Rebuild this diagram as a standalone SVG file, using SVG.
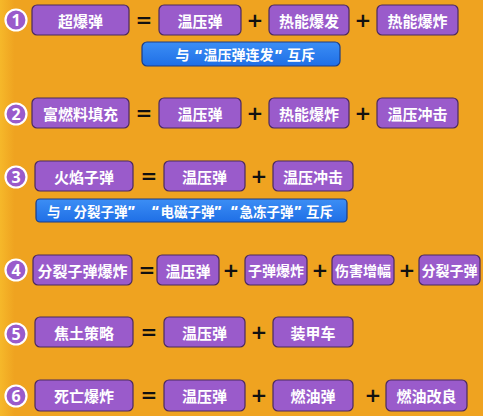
<svg xmlns="http://www.w3.org/2000/svg" width="483" height="416" viewBox="0 0 483 416">
<defs>
<linearGradient id="bg" x1="0" y1="0" x2="1" y2="0">
<stop offset="0" stop-color="#F6B82A"/><stop offset="0.03" stop-color="#EFA320"/><stop offset="1" stop-color="#EFA320"/>
</linearGradient>
<linearGradient id="blue" x1="0" y1="0" x2="0" y2="1">
<stop offset="0" stop-color="#3C8EF5"/><stop offset="1" stop-color="#1F6FE6"/>
</linearGradient>
</defs>
<style>
.box{fill:#9A5BCB;stroke:#4B2A5E;stroke-width:1.2}
.bt{font-family:"Noto Sans CJK SC","Noto Sans",sans-serif;font-weight:700;font-size:15px;fill:#fff;text-anchor:middle;dominant-baseline:central}
.bt4{font-size:14px}
.circ{fill:#9A5BCB;stroke:#fff;stroke-width:2.2}
.num{font-family:"Noto Sans","DejaVu Sans",sans-serif;font-weight:700;font-size:16px;fill:#fff;text-anchor:middle;dominant-baseline:central}
.op{font-family:"DejaVu Sans",sans-serif;font-weight:700;font-size:20px;fill:#111;text-anchor:middle;dominant-baseline:central}
.ban{fill:url(#blue);stroke:#1C3D86;stroke-width:1.2}
.bnt{font-family:"Noto Sans CJK SC","Noto Sans",sans-serif;font-weight:700;font-size:14px;fill:#fff;text-anchor:start;dominant-baseline:central}
.bnt3{font-size:13.5px}
.q{font-family:"Noto Sans","DejaVu Sans",sans-serif;font-weight:900}
</style>
<rect x="0" y="0" width="483" height="416" fill="url(#bg)"/>

<g id="row1">
<g id="n1"><circle class="circ" cx="16" cy="20" r="10.5"/><text class="num" x="16" y="20">1</text></g>
<g id="r1a"><rect class="box" x="32" y="5" width="97" height="30" rx="5"/><text class="bt" x="80.5" y="20">超爆弹</text></g>
<text class="op" x="144" y="20">=</text>
<g id="r1b"><rect class="box" x="159" y="5" width="82" height="30" rx="5"/><text class="bt" x="200" y="20">温压弹</text></g>
<text class="op" x="255" y="20">+</text>
<g id="r1c"><rect class="box" x="269" y="5" width="80" height="30" rx="5"/><text class="bt" x="309" y="20">热能爆发</text></g>
<text class="op" x="363" y="20">+</text>
<g id="r1d"><rect class="box" x="377" y="5" width="81" height="30" rx="5"/><text class="bt" x="417.5" y="20">热能爆炸</text></g>
<g id="b1"><rect class="ban" x="142" y="42" width="198" height="24" rx="5"/><text class="bnt" y="54"><tspan x="175.5">与</tspan><tspan class="q" x="195">“</tspan><tspan x="203.5">温压弹连发</tspan><tspan class="q" x="275">”</tspan><tspan x="287">互斥</tspan></text></g>
</g>

<g id="row2">
<g id="n2"><circle class="circ" cx="16" cy="114" r="10.5"/><text class="num" x="16" y="114">2</text></g>
<g id="r2a"><rect class="box" x="32" y="98" width="97" height="30" rx="5"/><text class="bt" x="80.5" y="113">富燃料填充</text></g>
<text class="op" x="144" y="113">=</text>
<g id="r2b"><rect class="box" x="159" y="98" width="82" height="30" rx="5"/><text class="bt" x="200" y="113">温压弹</text></g>
<text class="op" x="255" y="113">+</text>
<g id="r2c"><rect class="box" x="269" y="98" width="80" height="30" rx="5"/><text class="bt" x="309" y="113">热能爆炸</text></g>
<text class="op" x="363" y="113">+</text>
<g id="r2d"><rect class="box" x="377" y="98" width="81" height="30" rx="5"/><text class="bt" x="417.5" y="113">温压冲击</text></g>
</g>

<g id="row3">
<g id="n3"><circle class="circ" cx="16" cy="177" r="10.5"/><text class="num" x="16" y="177">3</text></g>
<g id="r3a"><rect class="box" x="35" y="161" width="98" height="30" rx="5"/><text class="bt" x="84" y="176">火焰子弹</text></g>
<text class="op" x="149" y="176">=</text>
<g id="r3b"><rect class="box" x="164" y="161" width="81" height="30" rx="5"/><text class="bt" x="204.5" y="176">温压弹</text></g>
<text class="op" x="259" y="176">+</text>
<g id="r3c"><rect class="box" x="273" y="161" width="80" height="30" rx="5"/><text class="bt" x="313" y="176">温压冲击</text></g>
<g id="b3"><rect class="ban" x="36" y="199" width="311" height="23" rx="4"/><text class="bnt bnt3" y="210.5"><tspan x="47">与</tspan><tspan class="q" x="64">“</tspan><tspan x="73.5">分裂子弹</tspan><tspan class="q" x="128">”</tspan><tspan class="q" x="152">“</tspan><tspan x="160.5">电磁子弹</tspan><tspan class="q" x="214.5">”</tspan><tspan class="q" x="231">“</tspan><tspan x="239.5">急冻子弹</tspan><tspan class="q" x="294.5">”</tspan><tspan x="306">互斥</tspan></text></g>
</g>

<g id="row4">
<g id="n4"><circle class="circ" cx="16" cy="270" r="10.5"/><text class="num" x="16" y="270">4</text></g>
<g id="r4a"><rect class="box" x="33" y="255" width="99" height="30" rx="5"/><text class="bt" x="82.5" y="270">分裂子弹爆炸</text></g>
<text class="op" x="147" y="270">=</text>
<g id="r4b"><rect class="box" x="157" y="255" width="62" height="30" rx="5"/><text class="bt" x="188" y="270">温压弹</text></g>
<text class="op" x="231" y="270">+</text>
<g id="r4c"><rect class="box" x="245" y="255" width="62" height="30" rx="5"/><text class="bt bt4" x="276" y="270">子弹爆炸</text></g>
<text class="op" x="320" y="270">+</text>
<g id="r4d"><rect class="box" x="332" y="255" width="62" height="30" rx="5"/><text class="bt bt4" x="363" y="270">伤害增幅</text></g>
<text class="op" x="407" y="270">+</text>
<g id="r4e"><rect class="box" x="419" y="255" width="61" height="30" rx="5"/><text class="bt bt4" x="449.5" y="270">分裂子弹</text></g>
</g>

<g id="row5">
<g id="n5"><circle class="circ" cx="16" cy="334" r="10.5"/><text class="num" x="16" y="334">5</text></g>
<g id="r5a"><rect class="box" x="35" y="317" width="98" height="30" rx="5"/><text class="bt" x="84" y="332">焦土策略</text></g>
<text class="op" x="149" y="332">=</text>
<g id="r5b"><rect class="box" x="164" y="317" width="81" height="30" rx="5"/><text class="bt" x="204.5" y="332">温压弹</text></g>
<text class="op" x="259" y="332">+</text>
<g id="r5c"><rect class="box" x="273" y="317" width="80" height="30" rx="5"/><text class="bt" x="313" y="332">装甲车</text></g>
</g>

<g id="row6">
<g id="n6"><circle class="circ" cx="16" cy="396" r="10.5"/><text class="num" x="16" y="396">6</text></g>
<g id="r6a"><rect class="box" x="35" y="380" width="98" height="31" rx="5"/><text class="bt" x="84" y="395.5">死亡爆炸</text></g>
<text class="op" x="149" y="395">=</text>
<g id="r6b"><rect class="box" x="164" y="380" width="81" height="31" rx="5"/><text class="bt" x="204.5" y="395.5">温压弹</text></g>
<text class="op" x="259" y="395">+</text>
<g id="r6c"><rect class="box" x="273" y="380" width="80" height="31" rx="5"/><text class="bt" x="313" y="395.5">燃油弹</text></g>
<text class="op" x="373" y="395">+</text>
<g id="r6d"><rect class="box" x="386" y="380" width="81" height="31" rx="5"/><text class="bt" x="426.5" y="395.5">燃油改良</text></g>
</g>
</svg>
